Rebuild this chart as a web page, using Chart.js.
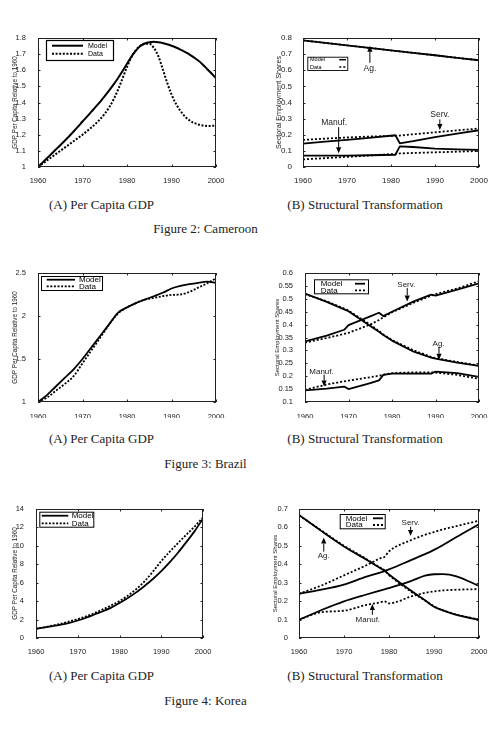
<!DOCTYPE html>
<html><head><meta charset="utf-8">
<script src="https://cdn.jsdelivr.net/npm/chart.js@4.4.1/dist/chart.umd.min.js"></script>
<style>
html,body{margin:0;padding:0;background:#fff;width:497px;height:734px;overflow:hidden;position:relative;}
.cap{position:absolute;font-family:"Liberation Serif","Times New Roman",serif;font-size:13px;color:#222;white-space:nowrap;transform:translateX(-50%);line-height:16px;}
</style></head><body>
<div class="cap" style="left:101.5px;top:197px">(A) Per Capita GDP</div>
<div class="cap" style="left:365px;top:197px">(B) Structural Transformation</div>
<div class="cap" style="left:205.5px;top:221px">Figure 2: Cameroon</div>
<div class="cap" style="left:101.5px;top:431px">(A) Per Capita GDP</div>
<div class="cap" style="left:365px;top:431px">(B) Structural Transformation</div>
<div class="cap" style="left:205.5px;top:455.5px">Figure 3: Brazil</div>
<div class="cap" style="left:101.5px;top:668px">(A) Per Capita GDP</div>
<div class="cap" style="left:365px;top:668px">(B) Structural Transformation</div>
<div class="cap" style="left:205.5px;top:692.5px">Figure 4: Korea</div>
<script>
// ---------- shared ----------
const yearTicks = [1960, 1970, 1980, 1990, 2000];
const legendLabels = ['Model', 'Data'];
const gdpTitle = 'GDP Per Capita Relative to 1960';
const shareTitle = 'Sectoral Employment Shares';

// ---------- Figure 2: Cameroon ----------
const camYears = [1960,1961,1962,1963,1964,1965,1966,1967,1968,1969,1970,1971,1972,1973,1974,1975,1976,1977,1978,1979,1980,1981,1982,1983,1984,1985,1986,1987,1988,1989,1990,1991,1992,1993,1994,1995,1996,1997,1998,1999,2000];
const camGdpModel = [1.000,1.027,1.054,1.081,1.108,1.135,1.163,1.191,1.220,1.250,1.282,1.312,1.343,1.374,1.406,1.440,1.475,1.512,1.552,1.595,1.640,1.685,1.722,1.750,1.766,1.774,1.776,1.774,1.769,1.761,1.752,1.741,1.728,1.714,1.699,1.680,1.660,1.636,1.608,1.580,1.550];
const camGdpData  = [1.000,1.020,1.040,1.060,1.080,1.100,1.120,1.140,1.160,1.180,1.200,1.222,1.245,1.270,1.298,1.330,1.370,1.420,1.480,1.550,1.620,1.680,1.725,1.752,1.765,1.765,1.740,1.690,1.610,1.525,1.450,1.392,1.348,1.314,1.290,1.274,1.264,1.258,1.255,1.255,1.258];
const camGdpTicks = [1,1.1,1.2,1.3,1.4,1.5,1.6,1.7,1.8];
const camSecYears = [1960,1965,1970,1975,1981,1982,1985,1990,1995,2000];
const camAgModel  = [0.785,0.770,0.754,0.739,0.720,0.717,0.708,0.693,0.677,0.662];
const camAgData   = [0.785,0.770,0.754,0.739,0.720,0.717,0.708,0.693,0.677,0.662];
const camManModel = [0.070,0.070,0.071,0.073,0.076,0.128,0.124,0.114,0.109,0.106];
const camManData  = [0.047,0.055,0.063,0.071,0.082,0.084,0.087,0.091,0.095,0.099];
const camSerModel = [0.145,0.157,0.168,0.180,0.197,0.147,0.160,0.185,0.207,0.228];
const camSerData  = [0.168,0.176,0.183,0.189,0.193,0.195,0.203,0.215,0.227,0.239];
const camShareTicks = [0,0.1,0.2,0.3,0.4,0.5,0.6,0.7,0.8];

// ---------- Figure 3: Brazil ----------
const braYears = [1960,1962,1964,1966,1968,1970,1972,1974,1976,1978,1980,1982,1984,1986,1988,1990,1992,1994,1996,1998,2000];
const braGdpModel = [1.00,1.08,1.18,1.28,1.38,1.50,1.635,1.77,1.905,2.04,2.10,2.15,2.19,2.23,2.27,2.32,2.35,2.37,2.385,2.40,2.385];
const braGdpData  = [1.00,1.05,1.13,1.21,1.30,1.45,1.60,1.75,1.90,2.03,2.10,2.15,2.19,2.21,2.23,2.245,2.25,2.28,2.33,2.38,2.44];
const braGdpTicks = [1,1.5,2,2.5];
const braSecYears = [1960,1965,1969,1970,1975,1977,1978,1980,1985,1989,1990,1995,2000];
const braAgModel  = [0.520,0.488,0.459,0.452,0.395,0.372,0.360,0.338,0.295,0.272,0.268,0.253,0.240];
const braAgData   = [0.518,0.490,0.462,0.454,0.400,0.375,0.362,0.340,0.300,0.275,0.270,0.255,0.241];
const braSerModel = [0.335,0.357,0.380,0.398,0.432,0.446,0.433,0.450,0.490,0.516,0.512,0.536,0.560];
const braSerData  = [0.330,0.348,0.364,0.368,0.400,0.418,0.428,0.448,0.485,0.512,0.518,0.540,0.568];
const braManModel = [0.145,0.152,0.160,0.150,0.173,0.184,0.205,0.210,0.210,0.210,0.218,0.212,0.197];
const braManData  = [0.147,0.168,0.180,0.183,0.196,0.202,0.206,0.212,0.215,0.215,0.214,0.205,0.190];
const braShareTicks = [0.1,0.15,0.2,0.25,0.3,0.35,0.4,0.45,0.5,0.55,0.6];

// ---------- Figure 4: Korea ----------
const korYears = [1960,1962,1964,1966,1968,1970,1972,1974,1976,1978,1980,1982,1984,1986,1988,1990,1992,1994,1996,1998,2000];
const korGdpModel = [1.0,1.15,1.3,1.45,1.65,1.9,2.2,2.55,2.9,3.3,3.8,4.35,4.95,5.65,6.4,7.25,8.2,9.25,10.4,11.6,12.95];
const korGdpData  = [1.0,1.15,1.35,1.55,1.8,2.05,2.35,2.7,3.1,3.55,4.0,4.6,5.3,6.15,7.2,8.35,9.35,10.3,11.2,12.1,13.1];
const korGdpTicks = [0,2,4,6,8,10,12,14];
const korSecYears = [1960,1965,1970,1975,1978,1979,1980,1985,1988,1990,1992,1995,2000];
const korAgModel  = [0.668,0.580,0.497,0.425,0.380,0.365,0.345,0.255,0.205,0.170,0.150,0.125,0.099];
const korAgData   = [0.665,0.583,0.500,0.428,0.382,0.368,0.342,0.250,0.203,0.172,0.150,0.127,0.100];
const korSerModel = [0.240,0.262,0.290,0.333,0.355,0.363,0.372,0.424,0.455,0.478,0.505,0.548,0.617];
const korSerData  = [0.240,0.285,0.340,0.395,0.432,0.440,0.470,0.532,0.560,0.575,0.590,0.607,0.637];
const korManModel = [0.099,0.152,0.199,0.236,0.257,0.264,0.271,0.310,0.338,0.346,0.347,0.335,0.282];
const korManData  = [0.100,0.140,0.148,0.180,0.193,0.199,0.188,0.226,0.245,0.253,0.258,0.262,0.265];
const korShareTicks = [0,0.1,0.2,0.3,0.4,0.5,0.6,0.7];

// ---------- drawing helpers ----------
const SANS = '"Liberation Sans", Arial, Helvetica, sans-serif';
const INK = '#222';

function makeExtras(s) {
  return {
    id: 'extras',
    afterDatasetsDraw(chart) {
      const ctx = chart.ctx, a = chart.chartArea, xs = chart.scales.x, ys = chart.scales.y;
      ctx.save();
      ctx.setLineDash([]);
      ctx.strokeStyle = INK; ctx.fillStyle = '#000'; ctx.lineWidth = 1;
      ctx.strokeRect(a.left + 0.5, a.top + 0.5, a.right - a.left - 1, a.bottom - a.top - 1);
      const tl = 2.5;
      ctx.beginPath();
      xs.ticks.forEach(t => {
        const p = Math.round(xs.getPixelForValue(t.value)) + 0.5;
        ctx.moveTo(p, a.bottom); ctx.lineTo(p, a.bottom - tl);
        ctx.moveTo(p, a.top); ctx.lineTo(p, a.top + tl);
      });
      ys.ticks.forEach(t => {
        const p = Math.round(ys.getPixelForValue(t.value)) + 0.5;
        ctx.moveTo(a.left, p); ctx.lineTo(a.left + tl, p);
        ctx.moveTo(a.right, p); ctx.lineTo(a.right - tl, p);
      });
      ctx.stroke();
      // legend
      const L = s.legend;
      const bx = a.left + L.x, by = a.top + L.y;
      ctx.fillStyle = '#fff'; ctx.fillRect(bx, by, L.w, L.h);
      ctx.fillStyle = '#000'; ctx.strokeStyle = '#000';
      ctx.font = L.size + 'px ' + SANS;
      ctx.textBaseline = 'middle'; ctx.textAlign = 'left';
      legendLabels.forEach((lab, i) => {
        const ry = by + L.rows[i];
        ctx.fillText(lab, bx + L.textX, ry);
        ctx.beginPath(); ctx.lineWidth = L.lw;
        ctx.setLineDash(i === 1 ? s.dash : []);
        ctx.moveTo(bx + L.x0, ry); ctx.lineTo(bx + L.x1, ry); ctx.stroke();
        ctx.setLineDash([]);
      });
      ctx.lineWidth = L.border;
      ctx.strokeRect(bx + 0.5, by + 0.5, L.w, L.h);
      // annotations
      (s.notes || []).forEach(n => {
        const ax = xs.getPixelForValue(n.x);
        const tx = xs.getPixelForValue(n.tx !== undefined ? n.tx : n.x);
        const ty = ys.getPixelForValue(n.ty);
        const t0 = ys.getPixelForValue(n.tail), t1 = ys.getPixelForValue(n.tip);
        ctx.font = s.noteSize + 'px ' + SANS;
        ctx.fillStyle = INK;
        ctx.textAlign = 'center'; ctx.textBaseline = 'middle';
        ctx.fillText(n.text, tx, ty);
        ctx.fillStyle = '#000';
        const dir = Math.sign(t1 - t0), hl = 6, hw = 2.6;
        ctx.lineWidth = 1;
        ctx.beginPath(); ctx.moveTo(ax, t0); ctx.lineTo(ax, t1 - dir * hl); ctx.stroke();
        ctx.beginPath(); ctx.moveTo(ax, t1); ctx.lineTo(ax - hw, t1 - dir * hl); ctx.lineTo(ax + hw, t1 - dir * hl); ctx.closePath(); ctx.fill();
      });
      ctx.restore();
    }
  };
}

function makeChart(s) {
  const cv = document.createElement('canvas');
  cv.width = s.W; cv.height = s.H;
  cv.style.cssText = 'position:absolute;left:' + s.L + 'px;top:' + s.T + 'px;width:' + s.W + 'px;height:' + s.H + 'px';
  document.body.appendChild(cv);
  const [l, t, r, b] = s.area;
  const datasets = s.series.map(d => ({
    label: d.label,
    data: d.years.map((yr, i) => ({ x: yr, y: d.values[i] })),
    borderColor: '#000', backgroundColor: '#000',
    borderWidth: s.lw, borderDash: d.dashed ? s.dash : [],
    pointRadius: 0, fill: false,
    tension: s.smooth ? 0.4 : 0,
    cubicInterpolationMode: s.smooth ? 'monotone' : 'default',
    borderCapStyle: 'butt', borderJoinStyle: 'round'
  }));
  new Chart(cv, {
    type: 'line',
    data: { datasets },
    options: {
      responsive: false, animation: false, devicePixelRatio: 1,
      layout: { autoPadding: false, padding: { left: 0, top: t - s.T, right: s.L + s.W - r, bottom: 0 } },
      plugins: { legend: { display: false }, tooltip: { enabled: false } },
      scales: {
        x: {
          type: 'linear', min: 1960, max: 2000,
          grid: { display: false }, border: { display: false },
          afterBuildTicks: sc => { sc.ticks = yearTicks.map(v => ({ value: v })); },
          afterFit: sc => { sc.height = s.T + s.H - b; },
          ticks: { padding: s.xPad, color: INK, font: { family: SANS, size: s.tick }, callback: v => String(v), maxRotation: 0, autoSkip: false }
        },
        y: {
          type: 'linear', min: s.yMin, max: s.yMax,
          grid: { display: false }, border: { display: false },
          afterBuildTicks: sc => { sc.ticks = s.yTicks.map(v => ({ value: v })); },
          afterFit: sc => { sc.width = l - s.L; },
          ticks: { padding: s.yPad, color: INK, font: { family: SANS, size: s.tick }, callback: v => String(+(+v).toFixed(3)), autoSkip: false },
          title: { display: true, text: s.yTitle, color: INK, font: { family: SANS, size: s.titleSize, lineHeight: 1.2 }, padding: { top: s.titleX - s.L - s.titleSize * 0.6, bottom: 0 } }
        }
      }
    },
    plugins: [makeExtras(s)]
  });
}

function gdpSeries(years, model, data) {
  return [
    { label: 'Model', years, values: model, dashed: false },
    { label: 'Data', years, values: data, dashed: true }
  ];
}
function shareSeries(years, agM, agD, manM, manD, serM, serD) {
  return [
    { label: 'Ag. Data', years, values: agD, dashed: true },
    { label: 'Ag. Model', years, values: agM, dashed: false },
    { label: 'Manuf. Data', years, values: manD, dashed: true },
    { label: 'Manuf. Model', years, values: manM, dashed: false },
    { label: 'Serv. Data', years, values: serD, dashed: true },
    { label: 'Serv. Model', years, values: serM, dashed: false }
  ];
}

// Figure 2A
makeChart({ L: 0, T: 26, W: 240, H: 157, area: [38, 38, 216, 167],
  yMin: 1, yMax: 1.8, yTicks: camGdpTicks, yTitle: gdpTitle, titleSize: 6.3, titleX: 15,
  tick: 7.5, xPad: 1, yPad: 4, lw: 2, dash: [2, 1.6], smooth: true,
  series: gdpSeries(camYears, camGdpModel, camGdpData),
  legend: { x: 8, y: 2, w: 67, h: 20, size: 7, rows: [5.7, 13.7], x0: 6, x1: 37, textX: 42, lw: 2, border: 1.2 } });

// Figure 2B
makeChart({ L: 250, T: 26, W: 247, H: 157, area: [303, 38, 479, 167],
  yMin: 0, yMax: 0.8, yTicks: camShareTicks, yTitle: shareTitle, titleSize: 7.2, titleX: 279.3,
  tick: 8, xPad: 1, yPad: 3, lw: 1.8, dash: [2, 2], smooth: false,
  series: shareSeries(camSecYears, camAgModel, camAgData, camManModel, camManData, camSerModel, camSerData),
  legend: { x: 4.3, y: 18.7, w: 40, h: 13.3, size: 5.5, rows: [3, 10.3], x0: 32, x1: 38.7, textX: 2.7, lw: 1.5, border: 0.9 },
  noteSize: 8.5,
  notes: [
    { text: 'Ag.', x: 1975.2, ty: 0.609, tail: 0.646, tip: 0.752 },
    { text: 'Manuf.', x: 1968.1, tx: 1967.1, ty: 0.274, tail: 0.247, tip: 0.085 },
    { text: 'Serv.', x: 1991.1, ty: 0.322, tail: 0.295, tip: 0.229 }
  ] });

// Figure 3A
makeChart({ L: 0, T: 261, W: 240, H: 157, area: [38, 273, 216, 402],
  yMin: 1, yMax: 2.5, yTicks: braGdpTicks, yTitle: gdpTitle, titleSize: 6.3, titleX: 15,
  tick: 7.5, xPad: 2, yPad: 4, lw: 1.8, dash: [2, 1.6], smooth: true,
  series: gdpSeries(braYears, braGdpModel, braGdpData),
  legend: { x: 3, y: 3, w: 61, h: 14, size: 8, rows: [3.7, 10.4], x0: 5.7, x1: 34, textX: 38, lw: 1.8, border: 1 } });

// Figure 3B
makeChart({ L: 250, T: 261, W: 247, H: 157, area: [305, 273, 479, 402],
  yMin: 0.1, yMax: 0.6, yTicks: braShareTicks, yTitle: shareTitle, titleSize: 6, titleX: 277.3,
  tick: 7.5, xPad: 2, yPad: 4, lw: 1.8, dash: [2, 2], smooth: false,
  series: shareSeries(braSecYears, braAgModel, braAgData, braManModel, braManData, braSerModel, braSerData),
  legend: { x: 9, y: 6.3, w: 54, h: 14, size: 8, rows: [4.4, 11], x0: 41, x1: 51, textX: 6.7, lw: 1.8, border: 1 },
  noteSize: 8,
  notes: [
    { text: 'Serv.', x: 1983.5, tx: 1983.3, ty: 0.555, tail: 0.542, tip: 0.49 },
    { text: 'Ag.', x: 1990.8, tx: 1990.7, ty: 0.325, tail: 0.315, tip: 0.264 },
    { text: 'Manuf.', x: 1964.4, tx: 1963.8, ty: 0.2186, tail: 0.206, tip: 0.16 }
  ] });

// Figure 4A
makeChart({ L: 0, T: 497, W: 240, H: 157, area: [36, 509, 203, 638],
  yMin: 0, yMax: 14, yTicks: korGdpTicks, yTitle: gdpTitle, titleSize: 6.3, titleX: 15,
  tick: 7.5, xPad: 1, yPad: 4, lw: 1.8, dash: [2, 1.6], smooth: true,
  series: gdpSeries(korYears, korGdpModel, korGdpData),
  legend: { x: 3.3, y: 2.7, w: 54, h: 15, size: 8, rows: [4, 11.6], x0: 2.4, x1: 29, textX: 32.4, lw: 1.8, border: 1 } });

// Figure 4B
makeChart({ L: 250, T: 497, W: 247, H: 157, area: [299, 509, 479, 638],
  yMin: 0, yMax: 0.7, yTicks: korShareTicks, yTitle: shareTitle, titleSize: 6, titleX: 275,
  tick: 7.5, xPad: 1, yPad: 3, lw: 1.8, dash: [2, 2], smooth: true,
  series: shareSeries(korSecYears, korAgModel, korAgData, korManModel, korManData, korSerModel, korSerData),
  legend: { x: 40.7, y: 5, w: 45, h: 14.3, size: 8, rows: [4.3, 11], x0: 33.3, x1: 43.3, textX: 6, lw: 1.8, border: 1 },
  noteSize: 8,
  notes: [
    { text: 'Serv.', x: 1984.8, ty: 0.626, tail: 0.604, tip: 0.554 },
    { text: 'Ag.', x: 1965.5, ty: 0.447, tail: 0.469, tip: 0.545 },
    { text: 'Manuf.', x: 1976.3, tx: 1975.3, ty: 0.099, tail: 0.126, tip: 0.184 }
  ] });
</script>
</body></html>
